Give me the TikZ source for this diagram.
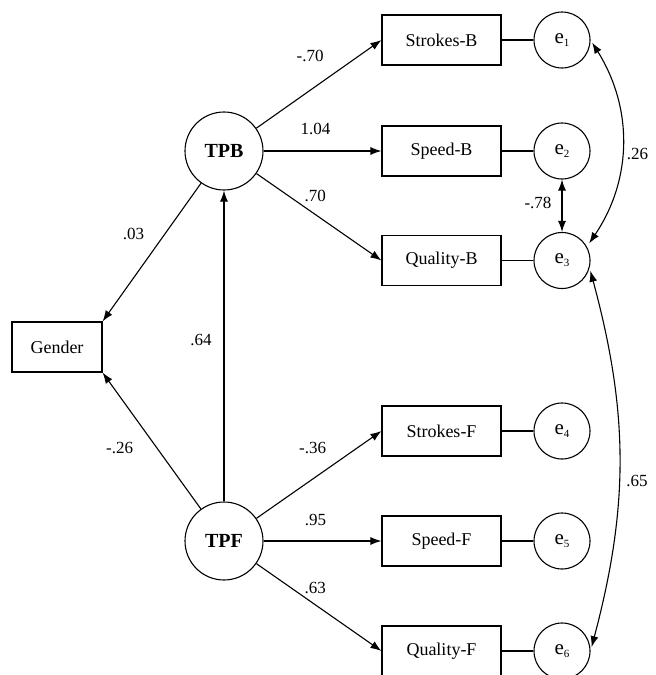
\documentclass[tikz,border=0pt]{standalone}
\usepackage{fontspec}
\setmainfont{Liberation Serif}
\usetikzlibrary{shapes.geometric, arrows.meta, calc, positioning}
\tikzstyle{obs} = [rectangle, draw=black, line width=1.1pt, minimum width=119pt,
minimum height=50pt, text centered, font=\fontsize{18}{20}\selectfont]
\tikzstyle{latent} = [circle, draw=black, line width=1.1pt, minimum size=78pt,
font=\fontsize{20}{22}\selectfont\bfseries]
\tikzstyle{err} = [circle, draw=black, line width=1.1pt, minimum size=56pt,
inner sep=0pt, font=\fontsize{21}{22}\selectfont]
\tikzstyle{arrow} = [line width=1.1pt, -{Latex[length=11pt,width=8pt]}]
\tikzstyle{cov} = [line width=1.1pt,
{Latex[length=11pt,width=8pt]}-{Latex[length=11pt,width=8pt]}]
\tikzstyle{line} = [line width=1.1pt, -]
\tikzstyle{coef} = [font=\fontsize{17}{18}\selectfont, inner sep=0pt]
\newcommand{\evar}[1]{e\raisebox{-0.3ex}{\fontsize{11}{11}\selectfont #1}}

\begin{document}
\begin{tikzpicture}[x=1pt, y=-1pt, node distance=120.5pt]

      \useasboundingbox (0,0) rectangle (656,675);

      % latent factors and the covariate
      \node (TPB) [latent] at (224,151) {TPB};
      \node (TPF) [latent] at (224,541) {TPF};
      \node (G) [obs, minimum width=90pt] at (57,347) {Gender};

      % indicators
      \node (SB) [obs] at (441.5,40) {Strokes-B};
      \node (SPB) [obs] at (441.5,151) {Speed-B};
      \node (QB) [obs] at (441.5,260.5) {Quality-B};
      \node (SF) [obs] at (441.5,431) {Strokes-F};
      \node (SPF) [obs] at (441.5,541) {Speed-F};
      \node (QF) [obs] at (441.5,651) {Quality-F};

      % error terms
      \node (e1) [err, right of=SB] {\evar{1}};
      \node (e2) [err, right of=SPB] {\evar{2}};
      \node (e3) [err, right of=QB] {\evar{3}};
      \node (e4) [err, right of=SF] {\evar{4}};
      \node (e5) [err, right of=SPF] {\evar{5}};
      \node (e6) [err, right of=QF] {\evar{6}};

      \draw [arrow] (TPB) -- node[coef, pos=0.43, yshift=34pt] {-.70} (SB.west);
      \draw [arrow] (TPB) -- node[coef, pos=0.44, yshift=22.5pt] {1.04} (SPB.west);
      \draw [arrow] (TPB) -- node[coef, pos=0.47, yshift=18pt] {.70} (QB.west);
      \draw [arrow] (TPB) -- node[coef, pos=0.37, xshift=-31pt] {.03} (G.north east);

      \draw [arrow] (TPF) -- node[coef, pos=0.52, xshift=-23pt] {.64} (TPB);
      \draw [arrow] (TPF) -- node[coef, pos=0.45, xshift=-37pt] {-.26} (G.south east);
      \draw [arrow] (TPF) -- node[coef, pos=0.45, yshift=31pt] {-.36} (SF.west);
      \draw [arrow] (TPF) -- node[coef, pos=0.44, yshift=21.5pt] {.95} (SPF.west);
      \draw [arrow] (TPF) -- node[coef, pos=0.47, yshift=16.5pt] {.63} (QF.west);

      \draw [line] (SB) -- (e1);
      \draw [line] (SPB) -- (e2);
      \draw [line] (QB) -- (e3);
      \draw [line] (SF) -- (e4);
      \draw [line] (SPF) -- (e5);
      \draw [line] (QF) -- (e6);

      % residual covariances
      \draw [cov] (e2) -- node[coef, pos=0.44, xshift=-24pt] {-.78} (e3);
      \draw [cov, shorten <=3pt, shorten >=4pt] (e1.east) to[bend left=33]
            node[coef, pos=0.55, right=5pt] {.26} (e3.29);
      \draw [cov, shorten <=3pt, shorten >=4pt] (e3.-15) to[bend left=15]
            node[coef, pos=0.56, right=7pt] {.65} (e6.east);

  \end{tikzpicture}
\end{document}
